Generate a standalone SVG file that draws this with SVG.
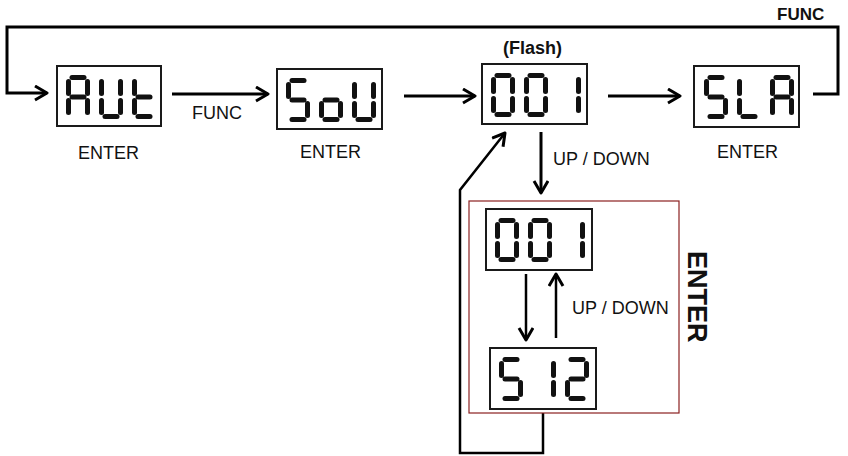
<svg xmlns="http://www.w3.org/2000/svg" xmlns:xlink="http://www.w3.org/1999/xlink" width="848" height="456" viewBox="0 0 848 456">
<style>
.box{fill:#fff;stroke:#1a1a1a;stroke-width:2}
.seg{fill:none;stroke:#111;stroke-width:5;stroke-linecap:round}
.con{fill:none;stroke:#000;stroke-width:3;marker-end:url(#arr)}
.thin{stroke-width:2.5}
.lbl{font-family:"Liberation Sans",Arial,sans-serif;font-size:18px;fill:#111}
.b{font-weight:bold}
</style>
<defs>
<marker id="arr" markerUnits="userSpaceOnUse" markerWidth="16" markerHeight="18" refX="13" refY="8" orient="auto">
<path d="M1,1 L13,8 L1,15" fill="none" stroke="#000" stroke-width="3" stroke-linejoin="round"/>
</marker>
<path id="sa" class="seg" d="M6,2.5 H18"/>
<path id="sb" class="seg" d="M21.5,6.5 V18.5"/>
<path id="sc" class="seg" d="M21.5,25.5 V37.5"/>
<path id="sd" class="seg" d="M6,41.5 H18"/>
<path id="se" class="seg" d="M2.5,25.5 V37.5"/>
<path id="sf" class="seg" d="M2.5,6.5 V18.5"/>
<path id="sg" class="seg" d="M6,22 H18"/>
<g id="dA"><use xlink:href="#sa"/><use xlink:href="#sb"/><use xlink:href="#sc"/><use xlink:href="#se"/><use xlink:href="#sf"/><use xlink:href="#sg"/></g>
<g id="dU"><use xlink:href="#sb"/><use xlink:href="#sc"/><use xlink:href="#sd"/><use xlink:href="#se"/><use xlink:href="#sf"/></g>
<g id="dt"><use xlink:href="#sd"/><use xlink:href="#se"/><use xlink:href="#sf"/><use xlink:href="#sg"/></g>
<g id="dS"><use xlink:href="#sa"/><use xlink:href="#sf"/><use xlink:href="#sg"/><use xlink:href="#sc"/><use xlink:href="#sd"/></g>
<g id="do"><use xlink:href="#sg"/><use xlink:href="#sc"/><use xlink:href="#sd"/><use xlink:href="#se"/></g>
<g id="dL"><use xlink:href="#sf"/><use xlink:href="#se"/><use xlink:href="#sd"/></g>
<g id="d0"><use xlink:href="#sa"/><use xlink:href="#sb"/><use xlink:href="#sc"/><use xlink:href="#sd"/><use xlink:href="#se"/><use xlink:href="#sf"/></g>
<g id="d1"><use xlink:href="#sb"/><use xlink:href="#sc"/></g>
<g id="d2"><use xlink:href="#sa"/><use xlink:href="#sb"/><use xlink:href="#sg"/><use xlink:href="#se"/><use xlink:href="#sd"/></g>
</defs>
<rect width="848" height="456" fill="#fff"/>

<g id="connectors">
<polyline class="con" points="813,94 838,94 838,27 7,27 7,93 47,93"/>
<line class="con" x1="172" y1="94" x2="268" y2="94"/>
<line class="con" x1="404" y1="96" x2="475" y2="96"/>
<line class="con" x1="608" y1="96" x2="680" y2="96"/>
<line class="con" x1="541" y1="132" x2="541" y2="193"/>
<line class="con thin" x1="526" y1="274" x2="526" y2="340"/>
<line class="con thin" x1="556" y1="338" x2="556" y2="274"/>
<polyline class="con thin" points="543,413 543,453 460,453 460,190 505,133"/>
</g>

<g id="node-aut">
<rect class="box" x="57" y="66" width="104" height="60"/>
<use xlink:href="#dA" x="66" y="75"/><use xlink:href="#dU" x="99" y="75"/><use xlink:href="#dt" x="132" y="75"/>
<text class="lbl" x="78" y="159">ENTER</text>
</g>

<g id="node-sou">
<rect class="box" x="277" y="69" width="105" height="60"/>
<use xlink:href="#dS" x="286" y="78"/><use xlink:href="#do" x="319" y="78"/><use xlink:href="#dU" x="352" y="78"/>
<text class="lbl" x="300" y="158">ENTER</text>
</g>

<g id="node-001">
<rect class="box" x="482" y="64" width="105" height="60"/>
<use xlink:href="#d0" x="491" y="73"/><use xlink:href="#d0" x="524" y="73"/><use xlink:href="#d1" x="557" y="73"/>
<text class="lbl b" x="503" y="54">(Flash)</text>
</g>

<g id="node-sla">
<rect class="box" x="694" y="66" width="105" height="61"/>
<use xlink:href="#dS" x="704" y="75"/><use xlink:href="#dL" x="737" y="75"/><use xlink:href="#dA" x="770" y="75"/>
<text class="lbl" x="717" y="158">ENTER</text>
</g>

<g id="node-enter-group">
<rect x="469" y="201" width="210" height="212" fill="none" stroke="#8b2020" stroke-width="1.2"/>
<text class="lbl b" transform="translate(688,251) rotate(90)" style="font-size:27px">ENTER</text>
</g>

<g id="node-001-inner">
<rect class="box" x="486" y="209" width="106" height="61"/>
<use xlink:href="#d0" x="495" y="218"/><use xlink:href="#d0" x="528" y="218"/><use xlink:href="#d1" x="561" y="218"/>
</g>

<g id="node-s12">
<rect class="box" x="490" y="348" width="106" height="61"/>
<use xlink:href="#dS" x="499" y="357"/><use xlink:href="#d1" x="532" y="357"/><use xlink:href="#d2" x="565" y="357"/>
</g>

<g id="labels">
<text class="lbl b" x="777" y="20" style="font-size:17px">FUNC</text>
<text class="lbl" x="192" y="119">FUNC</text>
<text class="lbl" x="553" y="165">UP / DOWN</text>
<text class="lbl" x="572" y="314">UP / DOWN</text>
</g>
</svg>
